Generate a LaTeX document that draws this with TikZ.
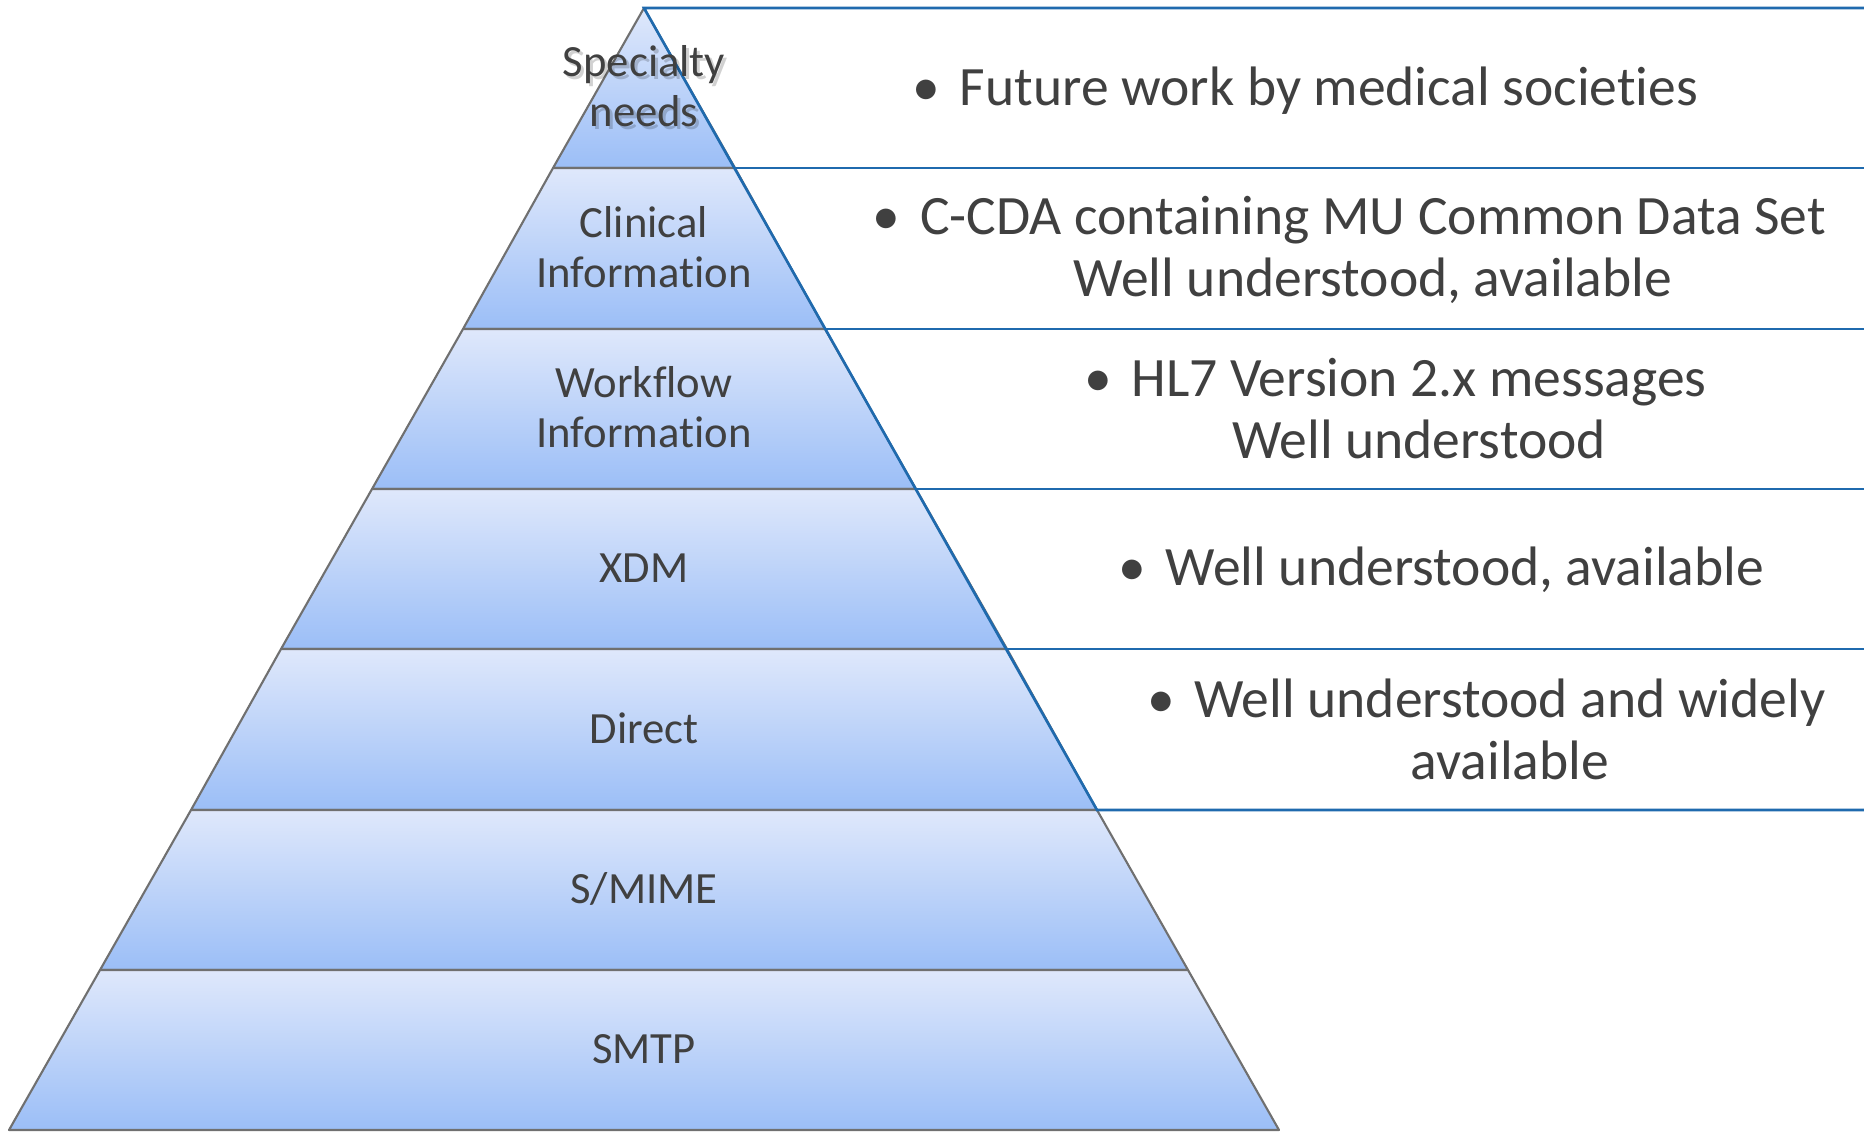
\documentclass[tikz,border=0pt]{standalone}
\usepackage{fontspec}
\setmainfont{Carlito}[Ligatures=NoCommon]

\definecolor{layertop}{RGB}{223,232,251}
\definecolor{layerbot}{RGB}{155,190,247}
\definecolor{layerline}{RGB}{112,112,112}
\definecolor{boxline}{RGB}{31,106,174}
\definecolor{txt}{RGB}{64,64,64}

\tikzset{
	layer/.style={top color=layertop, bottom color=layerbot, draw=layerline, line width=0.6pt, line join=round},
	boxrule/.style={draw=boxline, line width=0.75pt},
	lvl/.style={anchor=center, align=center, text=txt, inner sep=0pt, font=\fontsize{12.7}{14.2}\selectfont},
	note/.style={anchor=center, align=center, text=txt, inner sep=0pt, font=\fontsize{15.8}{17.6}\selectfont},
}
\newcommand{\bul}{\llap{\textbullet\hspace{0.35em}}}

\begin{document}
\begin{tikzpicture}[x=0.01cm, y=-0.01cm]
	\useasboundingbox (0,0) rectangle (1864,1132);
	% Corners of the layers:
	\coordinate (apex) at (644,8);
	\coordinate (l1) at (553,168);  \coordinate (r1) at (735,168);
	\coordinate (l2) at (463,329);  \coordinate (r2) at (825,329);
	\coordinate (l3) at (372,489);  \coordinate (r3) at (916,489);
	\coordinate (l4) at (281,649);  \coordinate (r4) at (1007,649);
	\coordinate (l5) at (191,810);  \coordinate (r5) at (1097,810);
	\coordinate (l6) at (100,970);  \coordinate (r6) at (1188,970);
	\coordinate (l7) at (9,1130);   \coordinate (r7) at (1279,1130);
	% Pyramid layers:
	\path[layer] (apex) -- (r1) -- (l1) -- cycle;
	\path[layer] (l1) -- (r1) -- (r2) -- (l2) -- cycle;
	\path[layer] (l2) -- (r2) -- (r3) -- (l3) -- cycle;
	\path[layer] (l3) -- (r3) -- (r4) -- (l4) -- cycle;
	\path[layer] (l4) -- (r4) -- (r5) -- (l5) -- cycle;
	\path[layer] (l5) -- (r5) -- (r6) -- (l6) -- cycle;
	\path[layer] (l6) -- (r6) -- (r7) -- (l7) -- cycle;
	% Boxes on the right:
	\draw[boxrule] (1864,8) -- (apex) -- (r5) -- (1864,810);
	\draw[boxrule] (r1) -- (1864,168);
	\draw[boxrule] (r2) -- (1864,329);
	\draw[boxrule] (r3) -- (1864,489);
	\draw[boxrule] (r4) -- (1864,649);
	% Layer labels:
	\node[lvl, text=black, opacity=0.18] (specshadow) at (647,89){Specialty\\needs};
	\node[lvl] (spec) at (644,86){Specialty\\needs};
	\node[lvl] (clin) at (644,247){Clinical\\Information};
	\node[lvl] (work) at (644,407){Workflow\\Information};
	\node[lvl] (xdm) at (644,568){XDM};
	\node[lvl] (direct) at (644,728){Direct};
	\node[lvl] (smime) at (644,889){S/MIME};
	\node[lvl] (smtp) at (644,1049){SMTP};
	% Notes:
	\node[note] (note1) at (1329,91){\bul Future work by medical societies};
	\node[note] (note2) at (1373,250){\bul C-CDA containing MU Common Data Set\\Well understood, available};
	\node[note] (note3) at (1419,409){\bul HL7 Version 2.x messages\\Well understood};
	\node[note] (note4) at (1465,570){\bul Well understood, available};
	\node[note] (note5) at (1510,729){\bul Well understood and widely\\available};
\end{tikzpicture}
\end{document}
